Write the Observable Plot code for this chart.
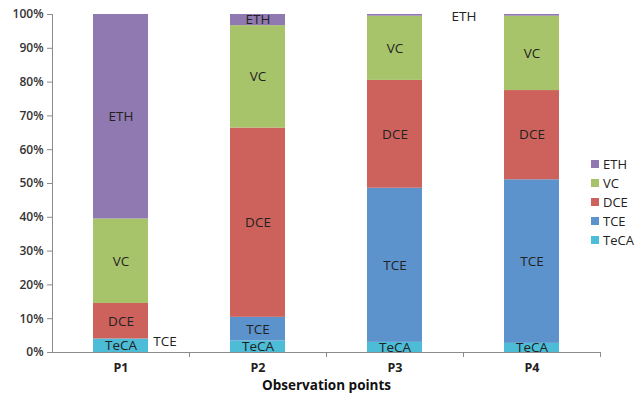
<!DOCTYPE html>
<html>
<head>
<meta charset="utf-8">
<script src="https://cdn.jsdelivr.net/npm/d3@7"></script>
<script src="https://cdn.jsdelivr.net/npm/@observablehq/plot@0.6"></script>
<style>
  body { margin: 0; background: #fff; }
  #chart { position: relative; width: 644px; height: 395px; font-family: "Open Sans", sans-serif; }
  #chart svg { display: block; }
  .legend { position: absolute; left: 591px; top: 154px; font-size: 13px; color: #222; }
  .legend .row { display: flex; align-items: center; height: 19px; }
  .legend .sw { width: 8px; height: 8px; margin-right: 4px; }
</style>
</head>
<body>
<div id="chart"></div>
<script>
// Observation points along the x axis
const points = ["P1", "P2", "P3", "P4"];
// Compounds, stacked from the bottom up
const compounds = ["TeCA", "TCE", "DCE", "VC", "ETH"];
const colors = ["#4dbcd6", "#5d93cc", "#cd625d", "#a8c46b", "#9079b0"];
const legendOrder = ["ETH", "VC", "DCE", "TCE", "TeCA"];

// Share of each compound (%) at P1..P4
const teca = [4.0, 3.4, 3.0, 2.7];
const tce  = [0.0, 7.0, 45.6, 48.4];
const dce  = [10.5, 56.0, 31.9, 26.4];
const vc   = [25.0, 30.3, 19.0, 22.0];
const eth  = [60.5, 3.3, 0.5, 0.5];

// Y axis ticks (%)
const yTicks = [0, 10, 20, 30, 40, 50, 60, 70, 80, 90, 100];
const xTitle = "Observation points";

// Labels drawn beside the bar instead of inside it
const sideLabels = [
  {point: "P1", compound: "TCE", dx: 44, dy: 3},
  {point: "P3", compound: "ETH", dx: 69, dy: 1}
];

const series = {TeCA: teca, TCE: tce, DCE: dce, VC: vc, ETH: eth};
const rows = [];
points.forEach((p, i) => {
  compounds.forEach(c => rows.push({point: p, compound: c, value: series[c][i]}));
});
const isSide = d => sideLabels.some(s => s.point === d.point && s.compound === d.compound);

const stackOpts = {x: "point", y: "value", z: "compound", order: compounds};

// Y axis line, x axis line and the category boundary ticks
function axisLines(index, scales, values, dims) {
  const {width, marginLeft, marginRight} = dims;
  const y0 = scales.y(0), y100 = scales.y(100);
  const step = (width - marginLeft - marginRight) / points.length;
  const g = d3.create("svg:g").attr("stroke", "#8c8c8c").attr("stroke-width", 1);
  g.append("line").attr("x1", marginLeft + 0.5).attr("x2", marginLeft + 0.5).attr("y1", y100).attr("y2", y0);
  g.append("line").attr("x1", marginLeft).attr("x2", width - marginRight).attr("y1", y0 + 0.5).attr("y2", y0 + 0.5);
  d3.range(1, points.length + 1).forEach(i => {
    const x = Math.round(marginLeft + i * step) + 0.5;
    g.append("line").attr("x1", x).attr("x2", x).attr("y1", y0).attr("y2", y0 + 5);
  });
  return g.node();
}

const chart = Plot.plot({
  width: 644,
  height: 395,
  marginLeft: 52,
  marginRight: 44,
  marginTop: 14,
  marginBottom: 43,
  style: {fontFamily: "'Open Sans', sans-serif", background: "#fff"},
  x: {domain: points, paddingInner: 0.6, paddingOuter: 0.3},
  y: {domain: [0, 100]},
  color: {domain: compounds, range: colors},
  marks: [
    Plot.barY(rows, Plot.stackY({...stackOpts, fill: "compound", inset: 0})),
    Plot.text(rows, Plot.stackY({
      ...stackOpts,
      text: d => (d.value >= 2 && !isSide(d)) ? d.compound : null,
      fill: "#222", fontSize: 13.5
    })),
    ...sideLabels.map(s => Plot.text(rows, Plot.stackY({
      ...stackOpts,
      text: d => (d.point === s.point && d.compound === s.compound) ? d.compound : null,
      dx: s.dx, dy: s.dy, fill: "#222", fontSize: 13.5
    }))),
    axisLines,
    Plot.axisY({
      ticks: yTicks, tickFormat: d => d + "%", tickSize: 5, tickPadding: 4,
      stroke: "#8c8c8c", fill: "#333", fontSize: 12, fontWeight: 600, label: null
    }),
    Plot.axisX({
      tickSize: 0, tickPadding: 11, fill: "#222", fontSize: 12.5, fontWeight: "bold", label: null
    }),
    Plot.text([xTitle], {
      text: d => d, frameAnchor: "bottom", dy: 37, fill: "#111", fontSize: 13.5, fontWeight: "bold"
    })
  ]
});

const root = document.getElementById("chart");
root.appendChild(chart);

// Legend, top to bottom
const legend = document.createElement("div");
legend.className = "legend";
legendOrder.forEach(c => {
  const row = document.createElement("div");
  row.className = "row";
  const sw = document.createElement("span");
  sw.className = "sw";
  sw.style.background = colors[compounds.indexOf(c)];
  const label = document.createElement("span");
  label.textContent = c;
  row.appendChild(sw);
  row.appendChild(label);
  legend.appendChild(row);
});
root.appendChild(legend);
</script>
</body>
</html>
